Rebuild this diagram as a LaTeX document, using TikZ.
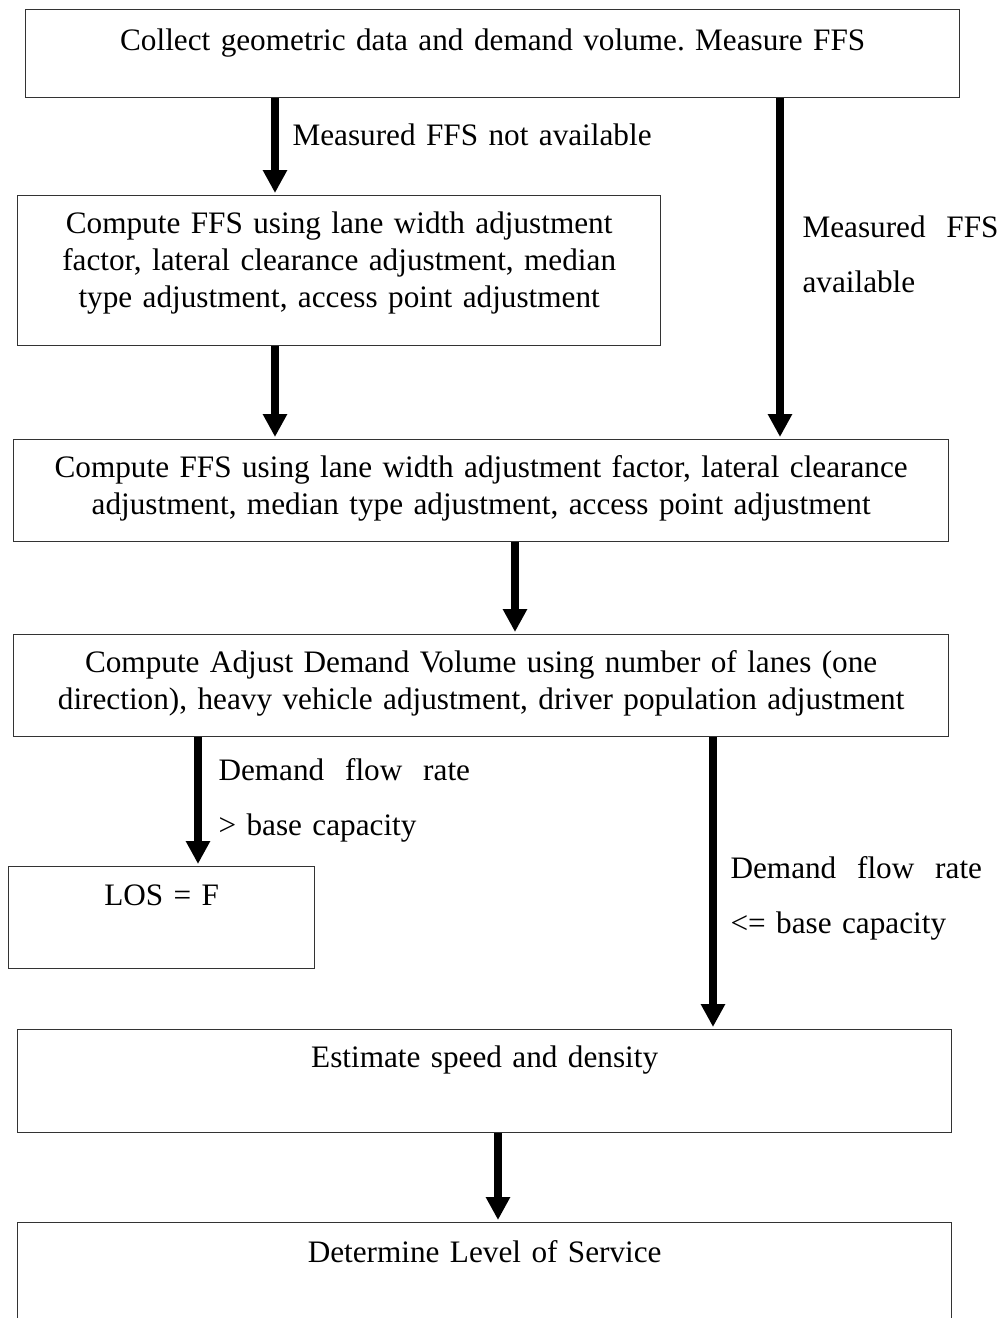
\documentclass[tikz,border=0pt]{standalone}
\usepackage{fontspec}
\setmainfont{Liberation Serif}
\usetikzlibrary{arrows.meta,positioning}
\newlength{\pxl}
\setlength{\pxl}{0.3762pt}
\frenchspacing

\begin{document}
\begin{tikzpicture}[x=\pxl,y=-\pxl,font=\fontsize{11.75pt}{13.9pt}\selectfont,
    box/.style={rectangle,draw=black!80,line width=0.5pt,inner sep=0pt,anchor=north west,align=center},
    flow/.style={-{Triangle[length=8.65pt,width=8.65pt]},line width=3pt,shorten >=0.75pt},
    note/.style={anchor=base west,inner sep=0pt,align=left,font=\fontsize{11.75pt}{20.7pt}\selectfont}]
    \useasboundingbox (0,0) rectangle (1006,1318);

    % Nodes
    \node[box,text width=934\pxl,text height=41\pxl,text depth=47\pxl] (collect) at (25,9) {Collect geometric data and demand volume. Measure FFS};
    \node[box,text width=643\pxl,text height=38\pxl,text depth=112\pxl] (ffscalc) at (17,195) {Compute FFS using lane width adjustment\\factor, lateral clearance adjustment, median\\type adjustment, access point adjustment};
    \node[box,text width=935\pxl,text height=38\pxl,text depth=64\pxl] (ffsadj) at (13,439) {Compute FFS using lane width adjustment factor, lateral clearance\\adjustment, median type adjustment, access point adjustment};
    \node[box,text width=935\pxl,text height=38\pxl,text depth=64\pxl] (demand) at (13,634) {Compute Adjust Demand Volume using number of lanes (one\\direction), heavy vehicle adjustment, driver population adjustment};
    \node[box,text width=306\pxl,text height=39\pxl,text depth=63\pxl] (losf) at (8,866) {LOS = F};
    \node[box,text width=934\pxl,text height=38\pxl,text depth=65\pxl] (estimate) at (17,1029) {Estimate speed and density};
    \node[box,text width=934\pxl,text height=40\pxl,text depth=83\pxl] (los) at (17,1222) {Determine Level of Service};

    % Arrow columns
    \coordinate (c1) at (275,0);
    \coordinate (c2) at (780,0);
    \coordinate (c3) at (515,0);
    \coordinate (c4) at (198,0);
    \coordinate (c5) at (713,0);
    \coordinate (c6) at (498,0);

    % Arrows
    \draw[flow] (collect.south -| c1) -- (ffscalc.north -| c1);
    \draw[flow] (collect.south -| c2) -- (ffsadj.north -| c2);
    \draw[flow] (ffscalc.south -| c1) -- (ffsadj.north -| c1);
    \draw[flow] (ffsadj.south -| c3) -- (demand.north -| c3);
    \draw[flow] (demand.south -| c4) -- (losf.north -| c4);
    \draw[flow] (demand.south -| c5) -- (estimate.north -| c5);
    \draw[flow] (estimate.south -| c6) -- (los.north -| c6);

    % Annotations
    \node[note,text width=380\pxl] (notavail) at (292,145) {Measured FFS not available};
    \node[note,text width=210\pxl] (avail) at (802,237) {Measured~~FFS\\available};
    \node[note,text width=260\pxl] (gtcap) at (218,780) {Demand~~flow~~rate\\> base capacity};
    \node[note,text width=260\pxl] (lecap) at (730,878) {Demand~~flow~~rate\\<= base capacity};
\end{tikzpicture}
\end{document}
